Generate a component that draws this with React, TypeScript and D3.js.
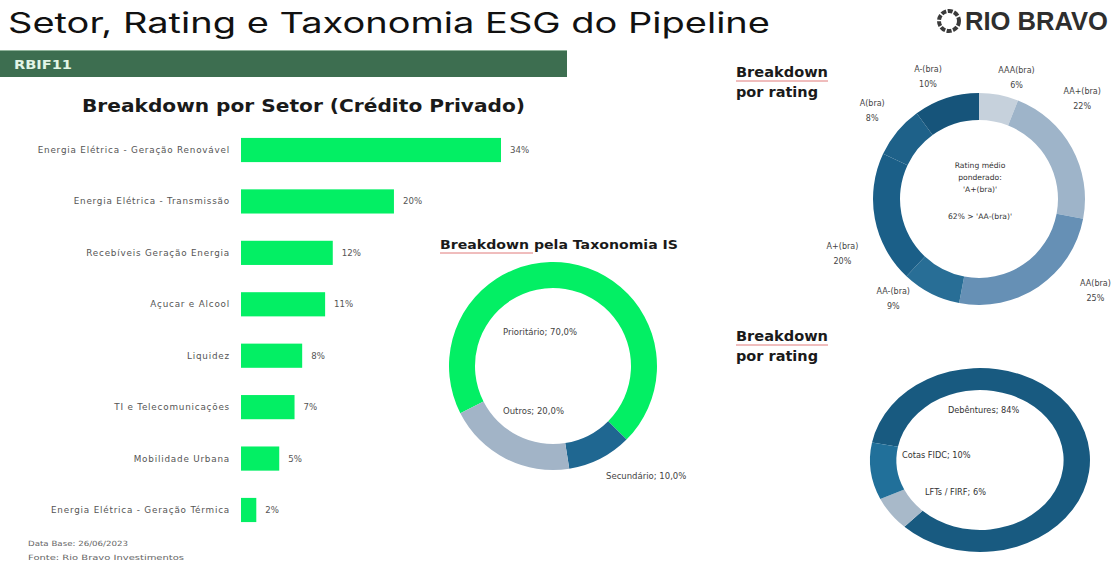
import React from "react";
import * as d3 from "d3";

// ---------- DATA ----------
const sectorCategories = [
  "Energia Elétrica - Geração Renovável",
  "Energia Elétrica - Transmissão",
  "Recebíveis Geração Energia",
  "Açucar e Alcool",
  "Liquidez",
  "TI e Telecomunicações",
  "Mobilidade Urbana",
  "Energia Elétrica - Geração Térmica",
];
const sectorValues = [34, 20, 12, 11, 8, 7, 5, 2];

const taxonomyLabels = ["Prioritário", "Secundário", "Outros"];
const taxonomyValues = [70, 10, 20];

const ratingLabels = ["AAA(bra)", "AA+(bra)", "AA(bra)", "AA-(bra)", "A+(bra)", "A(bra)", "A-(bra)"];
const ratingValues = [6, 22, 25, 9, 20, 8, 10];

const instrumentLabels = ["Debêntures", "LFTs / FIRF", "Cotas FIDC"];
const instrumentValues = [84, 6, 10];

// ---------- STYLE / LAYOUT ----------
const GREEN = "#03ef64";
const FONT = "'DejaVu Sans', sans-serif";
const taxonomyColors = [GREEN, "#1f6791", "#a2b4c7"];
const ratingColors = ["#c6d1dc", "#9eb4c9", "#6690b5", "#286e96", "#1b5f88", "#1e6189", "#16547a"];
const instrumentColors = ["#185a80", "#a8b9c9", "#21709a"];

const ratingNudges: [number, number][] = [
  [12, 12], [-16, -35], [40, -21], [-24, -22], [-3, 29], [-2, -2], [-9, 7],
];
const taxonomyLabelOffsets: [number, number][] = [[-50, -34], [53, 110], [-50, 45]];
const instrumentLabelOffsets: [number, number][] = [[-32, -50], [-55, 32], [-78, -5]];

function SpellUnderline({ x1, x2, y }: { x1: number; x2: number; y: number }) {
  return <line x1={x1} x2={x2} y1={y} y2={y} stroke="#e07a7a" strokeWidth={1} />;
}

export default function App() {
  // Bars
  const y = d3
    .scaleBand<string>()
    .domain(sectorCategories)
    .range([124.3, 535.7])
    .paddingInner(0.53)
    .paddingOuter(0.265);
  const x = d3.scaleLinear().domain([0, 34]).range([241, 501]);

  // Taxonomy donut
  const taxCx = 553, taxCy = 366;
  const taxStart = (-117 * Math.PI) / 180;
  const taxPie = d3
    .pie<number>()
    .sort(null)
    .startAngle(taxStart)
    .endAngle(taxStart + 2 * Math.PI)(taxonomyValues);
  const taxArc = d3.arc<d3.PieArcDatum<number>>().innerRadius(78).outerRadius(104);

  // Rating donut
  const rCx = 979, rCy = 199;
  const rPie = d3.pie<number>().sort(null)(ratingValues);
  const rArc = d3.arc<d3.PieArcDatum<number>>().innerRadius(79).outerRadius(106);
  const rLabelArc = d3.arc<d3.PieArcDatum<number>>().innerRadius(136).outerRadius(136);

  // Instrument donut (slightly elliptical)
  const iCx = 980, iCy = 460;
  const iStart = (-79 * Math.PI) / 180;
  const iPie = d3
    .pie<number>()
    .sort(null)
    .startAngle(iStart)
    .endAngle(iStart + 2 * Math.PI)(instrumentValues);
  const iArc = d3.arc<d3.PieArcDatum<number>>().innerRadius(76).outerRadius(100);

  return (
    <svg
      width={1114}
      height={565}
      style={{ position: "absolute", left: 0, top: 0, background: "#fff" }}
      fontFamily={FONT}
    >
      {/* Header */}
      <text x={8} y={33} fontFamily="Inter, 'Liberation Sans', sans-serif" fontSize={28} fill="#111"
        textLength={762} lengthAdjust="spacingAndGlyphs">
        Setor, Rating e Taxonomia ESG do Pipeline
      </text>
      <rect x={0} y={50} width={567} height={27} fill="#3d6e50" />
      <line x1={0} x2={567} y1={50.5} y2={50.5} stroke="#8fb39a" strokeWidth={1} />
      <text x={14} y={69} fontSize={12} fontWeight="bold" fill="#e3f6e6" textLength={58}
        lengthAdjust="spacingAndGlyphs">RBIF11</text>

      {/* Logo */}
      <circle cx={949} cy={21} r={10} fill="none" stroke="#3a3a3a" strokeWidth={4} strokeDasharray="5 1.5" />
      <text x={965} y={30} fontFamily="'Liberation Sans', Arial, sans-serif" fontWeight="bold" fontSize={26}
        fill="#2e2e2e" textLength={143} lengthAdjust="spacingAndGlyphs">RIO BRAVO</text>

      {/* Sector bar chart */}
      <text x={82} y={112} fontSize={17} fontWeight="bold" fill="#1a1a1a" textLength={443}
        lengthAdjust="spacingAndGlyphs">Breakdown por Setor (Crédito Privado)</text>
      {sectorCategories.map((c, i) => {
        const yy = y(c)!;
        const h = y.bandwidth();
        return (
          <g key={c}>
            <rect x={x(0)} y={yy} width={x(sectorValues[i]) - x(0)} height={h} fill={GREEN} />
            <text x={230} y={yy + h / 2 + 3} textAnchor="end" fontSize={8.8} letterSpacing={0.8} fill="#555">{c}</text>
            <text x={x(sectorValues[i]) + 9} y={yy + h / 2 + 3} fontSize={8.6} fill="#555">
              {sectorValues[i]}%
            </text>
          </g>
        );
      })}
      <text x={28} y={546} fontSize={7.2} fill="#666" textLength={100} lengthAdjust="spacingAndGlyphs">
        Data Base: 26/06/2023
      </text>
      <text x={28} y={560} fontSize={7.2} fill="#666" textLength={156} lengthAdjust="spacingAndGlyphs">
        Fonte: Rio Bravo Investimentos
      </text>

      {/* Taxonomy donut */}
      <text x={440} y={249} fontSize={13} fontWeight="bold" fill="#1a1a1a" textLength={238}
        lengthAdjust="spacingAndGlyphs">Breakdown pela Taxonomia IS</text>
      <SpellUnderline x1={440} x2={533} y={253} />
      <g transform={`translate(${taxCx},${taxCy})`}>
        {taxPie.map((d, i) => (
          <path key={i} d={taxArc(d)!} fill={taxonomyColors[i]} />
        ))}
        {taxPie.map((d, i) => (
          <text key={"l" + i} x={taxonomyLabelOffsets[i][0]} y={taxonomyLabelOffsets[i][1] + 3}
            fontSize={8.5} fill="#444">
            {taxonomyLabels[i]}; {taxonomyValues[i].toFixed(1).replace(".", ",")}%
          </text>
        ))}
      </g>

      {/* Rating donut */}
      <text x={736} y={77} fontSize={13.5} fontWeight="bold" fill="#1a1a1a" textLength={92}
        lengthAdjust="spacingAndGlyphs">Breakdown</text>
      <SpellUnderline x1={736} x2={828} y={81} />
      <text x={736} y={97} fontSize={13.5} fontWeight="bold" fill="#1a1a1a" textLength={82}
        lengthAdjust="spacingAndGlyphs">por rating</text>
      <g transform={`translate(${rCx},${rCy})`}>
        {rPie.map((d, i) => (
          <path key={i} d={rArc(d)!} fill={ratingColors[i]} />
        ))}
        {rPie.map((d, i) => {
          const [cx, cy] = rLabelArc.centroid(d);
          const lx = cx + ratingNudges[i][0];
          const ly = cy + ratingNudges[i][1];
          return (
            <g key={"l" + i} fontSize={8} fill="#444" textAnchor="middle">
              <text x={lx} y={ly - 4.5}>{ratingLabels[i]}</text>
              <text x={lx} y={ly + 10.5}>{ratingValues[i]}%</text>
            </g>
          );
        })}
        <g fontSize={7.6} fill="#333" textAnchor="middle">
          <text x={1} y={-31}>Rating médio</text>
          <text x={1} y={-19}>ponderado:</text>
          <text x={1} y={-7}>'A+(bra)'</text>
          <text x={1} y={20}>
            {ratingValues.slice(0, 4).reduce((a, b) => a + b, 0)}% &gt; 'AA-(bra)'
          </text>
        </g>
      </g>

      {/* Instrument donut */}
      <text x={736} y={341} fontSize={13.5} fontWeight="bold" fill="#1a1a1a" textLength={92}
        lengthAdjust="spacingAndGlyphs">Breakdown</text>
      <SpellUnderline x1={736} x2={828} y={345} />
      <text x={736} y={361} fontSize={13.5} fontWeight="bold" fill="#1a1a1a" textLength={82}
        lengthAdjust="spacingAndGlyphs">por rating</text>
      <g transform={`translate(${iCx},${iCy}) scale(1.1,0.92)`}>
        {iPie.map((d, i) => (
          <path key={i} d={iArc(d)!} fill={instrumentColors[i]} />
        ))}
      </g>
      <g transform={`translate(${iCx},${iCy})`}>
        {iPie.map((d, i) => (
          <text key={"l" + i} x={instrumentLabelOffsets[i][0]} y={instrumentLabelOffsets[i][1] + 3}
            fontSize={8.2} fill="#333">
            {instrumentLabels[i]}; {instrumentValues[i]}%
          </text>
        ))}
      </g>
    </svg>
  );
}
